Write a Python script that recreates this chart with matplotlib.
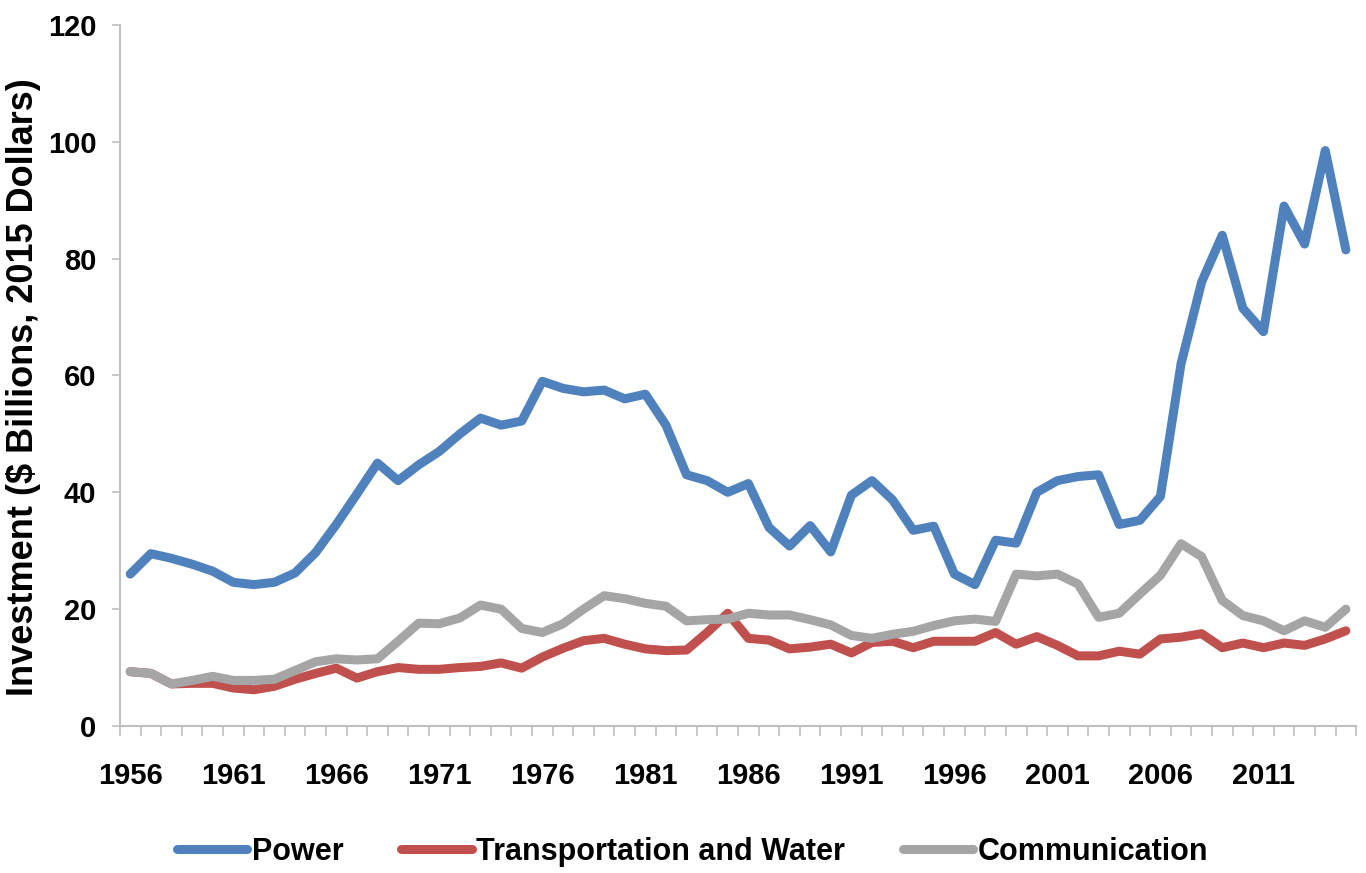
import numpy as np
import matplotlib
matplotlib.use("Agg")
import matplotlib.pyplot as plt

years = list(range(1956, 2016))
power = [26.0, 29.5, 28.7, 27.7, 26.5, 24.6, 24.2, 24.6, 26.2, 29.7,
         34.5, 39.7, 45.0, 42.0, 44.7, 47.0, 50.0, 52.7, 51.5, 52.2,
         59.0, 57.8, 57.2, 57.5, 56.0, 56.8, 51.5, 43.0, 42.0, 40.0,
         41.5, 34.0, 30.8, 34.3, 29.8, 39.5, 42.0, 38.7, 33.5, 34.2,
         26.0, 24.2, 31.8, 31.3, 40.0, 42.0, 42.7, 43.0, 34.5, 35.2,
         39.3, 62.0, 76.0, 84.0, 71.5, 67.5, 89.0, 82.5, 98.5, 81.5]
transport = [9.3, 9.0, 7.2, 7.3, 7.3, 6.5, 6.2, 6.8, 8.0, 9.0,
             9.9, 8.2, 9.3, 10.0, 9.7, 9.7, 10.0, 10.2, 10.8, 9.9,
             11.8, 13.3, 14.6, 15.0, 14.0, 13.2, 12.9, 13.0, 16.0, 19.3,
             15.0, 14.7, 13.2, 13.5, 14.0, 12.5, 14.3, 14.5, 13.4, 14.5,
             14.5, 14.5, 16.0, 14.0, 15.3, 13.8, 12.0, 12.0, 12.8, 12.3,
             14.9, 15.2, 15.8, 13.4, 14.2, 13.4, 14.2, 13.8, 14.9, 16.3]
communication = [9.3, 9.0, 7.2, 7.8, 8.5, 7.8, 7.8, 8.0, 9.5, 11.0,
                 11.5, 11.3, 11.5, 14.5, 17.6, 17.5, 18.5, 20.7, 20.0, 16.7,
                 16.0, 17.5, 20.0, 22.3, 21.8, 21.0, 20.5, 18.0, 18.2, 18.3,
                 19.3, 19.0, 19.0, 18.2, 17.3, 15.5, 15.0, 15.7, 16.2, 17.2,
                 18.0, 18.3, 17.9, 26.0, 25.7, 26.0, 24.3, 18.6, 19.3, 22.6,
                 25.8, 31.2, 29.0, 21.5, 18.9, 18.0, 16.3, 18.0, 16.9, 20.0]
series_names = ["Power", "Transportation and Water", "Communication"]
colors = ["#4F81BD", "#C0504D", "#A5A5A5"]

font = ["Liberation Sans", "DejaVu Sans"]

fig = plt.figure(figsize=(13.66, 8.73), dpi=100)
ax = fig.add_axes([0.0878, 0.1684, 0.905, 0.803])

x = np.arange(len(years))
for vals, name, c in zip([power, transport, communication], series_names, colors):
    ax.plot(x, vals, color=c, lw=6.5, label=name, solid_joinstyle="round",
            solid_capstyle="round")

ax.set_xlim(-0.5, len(years) - 0.5)
ax.set_ylim(0, 120)

ax.set_xticks(x[::5])
ax.set_xticklabels([str(y) for y in years[::5]], fontsize=21, fontweight="bold",
                   family=font)
ax.set_xticks(np.arange(-0.5, len(years), 1), minor=True)
ax.tick_params(axis="x", which="major", length=0, pad=26)
ax.tick_params(axis="x", which="minor", length=7, width=1.2, color="#BFBFBF",
               direction="out")

ax.set_yticks(np.arange(0, 121, 20))
ax.set_yticklabels([str(v) for v in range(0, 121, 20)], fontsize=21,
                   fontweight="bold", family=font)
ax.tick_params(axis="y", length=6, width=1.2, color="#BFBFBF", pad=11)

for s in ["top", "right"]:
    ax.spines[s].set_visible(False)
for s in ["left", "bottom"]:
    ax.spines[s].set_color("#BFBFBF")
    ax.spines[s].set_linewidth(1.5)

fig.text(0.0175, 0.556, "Investment ($ Billions, 2015 Dollars)", rotation=90,
         ha="center", va="center", fontsize=26, fontweight="bold", family=font)

fig.legend(loc="center", bbox_to_anchor=(0.507, 0.024), ncol=3, frameon=False,
           prop={"family": font, "weight": "bold", "size": 22},
           handlelength=2.3, handletextpad=0.15, columnspacing=1.9)

fig.savefig("out.png", dpi=100)
